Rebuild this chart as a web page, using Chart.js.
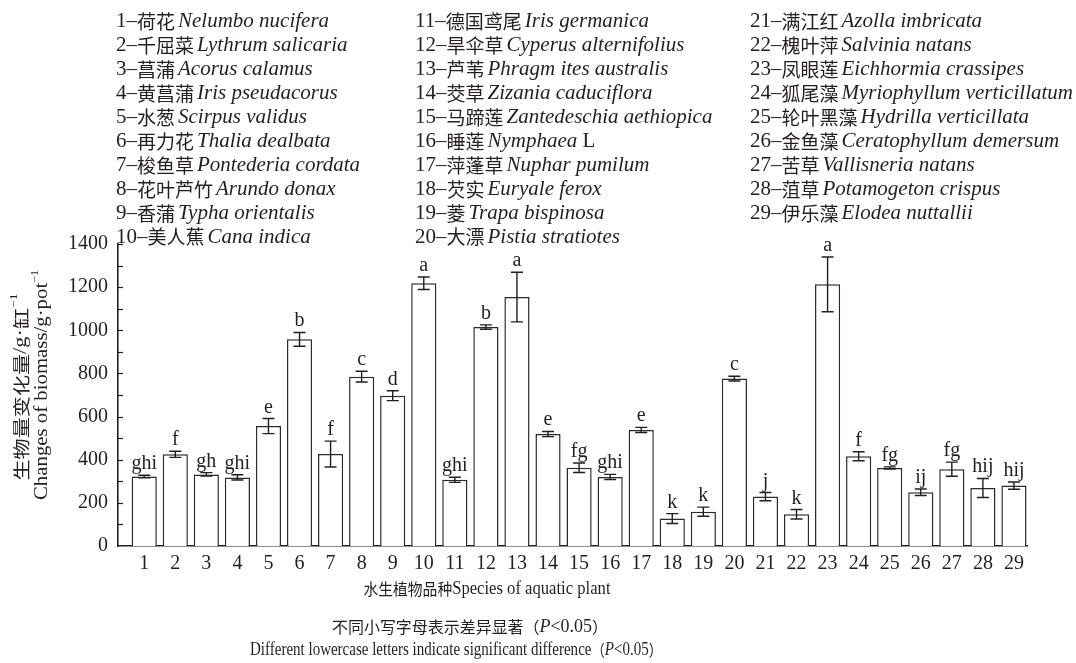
<!DOCTYPE html>
<html>
<head>
<meta charset="utf-8">
<script src="https://cdn.jsdelivr.net/npm/chart.js@4.4.0/dist/chart.umd.min.js"></script>
<style>
  html, body { margin: 0; padding: 0; background: #fff; }
</style>
</head>
<body>
<canvas id="myChart" width="1076" height="663"></canvas>
<script>
// species number on the x axis
const categories = [1, 2, 3, 4, 5, 6, 7, 8, 9, 10, 11, 12, 13, 14, 15, 16, 17, 18, 19, 20, 21, 22, 23, 24, 25, 26, 27, 28, 29];
// change of biomass, g per pot
const biomass = [322, 425, 332, 318, 556, 958, 426, 785, 697, 1218, 307, 1015, 1154, 519, 363, 320, 538, 127, 159, 776, 229, 147, 1213, 416, 362, 249, 356, 269, 280];
// error bar half length
const errors = [6, 14, 8, 12, 35, 32, 60, 25, 23, 29, 12, 10, 115, 12, 22, 12, 12, 23, 21, 11, 19, 22, 127, 21, 5, 15, 33, 44, 17];
// significance letters
const letters = ['ghi', 'f', 'gh', 'ghi', 'e', 'b', 'f', 'c', 'd', 'a', 'ghi', 'b', 'a', 'e', 'fg', 'ghi', 'e', 'k', 'k', 'c', 'j', 'k', 'a', 'f', 'fg', 'ij', 'fg', 'hij', 'hij'];
const yTickLabels = [0, 200, 400, 600, 800, 1000, 1200, 1400];

const speciesCn = ['荷花', '千屈菜', '菖蒲', '黄菖蒲', '水葱', '再力花', '梭鱼草', '花叶芦竹', '香蒲', '美人蕉',
  '德国鸢尾', '旱伞草', '芦苇', '茭草', '马蹄莲', '睡莲', '萍蓬草', '芡实', '菱', '大漂',
  '满江红', '槐叶萍', '凤眼莲', '狐尾藻', '轮叶黑藻', '金鱼藻', '苦草', '菹草', '伊乐藻'];
const speciesLatin = ['Nelumbo nucifera', 'Lythrum salicaria', 'Acorus calamus', 'Iris pseudacorus', 'Scirpus validus',
  'Thalia dealbata', 'Pontederia cordata', 'Arundo donax', 'Typha orientalis', 'Cana indica',
  'Iris germanica', 'Cyperus alternifolius', 'Phragm ites australis', 'Zizania caduciflora', 'Zantedeschia aethiopica',
  'Nymphaea L', 'Nuphar pumilum', 'Euryale ferox', 'Trapa bispinosa', 'Pistia stratiotes',
  'Azolla imbricata', 'Salvinia natans', 'Eichhormia crassipes', 'Myriophyllum verticillatum', 'Hydrilla verticillata',
  'Ceratophyllum demersum', 'Vallisneria natans', 'Potamogeton crispus', 'Elodea nuttallii'];

const SERIF = '"Liberation Serif", "Times New Roman", serif';
const CJK = '"Noto Sans CJK SC", sans-serif';
const INK = '#231f20';

// runs = [{t, font, sup}]
function runsWidth(ctx, runs) {
  let w = 0;
  runs.forEach(r => { ctx.font = r.font; w += ctx.measureText(r.t).width + (r.gap || 0); });
  return w;
}

function drawRuns(ctx, x, y, runs, align, target) {
  const w = runsWidth(ctx, runs);
  const sx = target ? target / w : 1;
  ctx.save();
  ctx.translate(x, y);
  ctx.scale(sx, 1);
  let cx = align === 'center' ? -w / 2 : 0;
  ctx.textBaseline = 'middle';
  ctx.textAlign = 'left';
  ctx.fillStyle = INK;
  runs.forEach(r => {
    ctx.font = r.font;
    ctx.fillText(r.t, cx, r.sup ? -7 : 0);
    cx += ctx.measureText(r.t).width + (r.gap || 0);
  });
  ctx.restore();
}

const extras = {
  id: 'extras',
  afterDatasetsDraw(chart) {
    const ctx = chart.ctx;
    const xs = chart.scales.x, ys = chart.scales.y;
    ctx.save();
    // inward ticks
    ctx.strokeStyle = INK;
    ctx.lineWidth = 1.2;
    for (let v = 100; v <= 1400; v += 100) {
      const py = Math.round(ys.getPixelForValue(v)) + 0.5;
      ctx.beginPath();
      ctx.moveTo(xs.left, py);
      ctx.lineTo(xs.left + 5, py);
      ctx.stroke();
    }
    // error bars + letters
    ctx.lineWidth = 1.4;
    ctx.font = '20px ' + SERIF;
    ctx.fillStyle = INK;
    ctx.textAlign = 'center';
    ctx.textBaseline = 'alphabetic';
    categories.forEach((c, i) => {
      const px = xs.getPixelForValue(c);
      const top = ys.getPixelForValue(biomass[i] + errors[i]);
      const bot = ys.getPixelForValue(biomass[i] - errors[i]);
      ctx.beginPath();
      ctx.moveTo(px, top); ctx.lineTo(px, bot);
      ctx.moveTo(px - 6, top); ctx.lineTo(px + 6, top);
      ctx.moveTo(px - 6, bot); ctx.lineTo(px + 6, bot);
      ctx.stroke();
      ctx.fillText(letters[i], px, top - 6);
    });
    ctx.restore();
  },
  afterDraw(chart) {
    const ctx = chart.ctx;
    // legend block
    const colX = [116, 415, 750];
    speciesCn.forEach((cn, i) => {
      const col = Math.floor(i / 10), row = i % 10;
      const y = 21.7 + row * 23.95;
      let latin = speciesLatin[i];
      const runs = [
        { t: (i + 1) + '–', font: '21px ' + SERIF },
        { t: cn, font: '19px ' + CJK, gap: 3 }
      ];
      if (latin.endsWith(' L')) {
        runs.push({ t: latin.slice(0, -2), font: 'italic 21px ' + SERIF });
        runs.push({ t: ' L', font: '21px ' + SERIF });
      } else {
        runs.push({ t: latin, font: 'italic 21px ' + SERIF });
      }
      drawRuns(ctx, colX[col], y, runs, 'left');
    });

    // y axis title (two rotated lines)
    ctx.save();
    ctx.translate(21.5, 387);
    ctx.rotate(-Math.PI / 2);
    drawRuns(ctx, 0, 0, [
      { t: '生物量变化量', font: '17px ' + CJK },
      { t: '/g·', font: '18px ' + SERIF },
      { t: '缸', font: '17px ' + CJK },
      { t: '−1', font: '11px ' + SERIF, sup: true }
    ], 'center', 187);
    ctx.restore();
    ctx.save();
    ctx.translate(42, 385);
    ctx.rotate(-Math.PI / 2);
    drawRuns(ctx, 0, 0, [
      { t: 'Changes of biomass/g·pot', font: '19px ' + SERIF },
      { t: '−1', font: '11px ' + SERIF, sup: true }
    ], 'center', 230);
    ctx.restore();

    // x axis title and note
    drawRuns(ctx, 487, 589, [
      { t: '水生植物品种', font: '16px ' + CJK },
      { t: 'Species of aquatic plant', font: '18px ' + SERIF }
    ], 'center', 247);
    drawRuns(ctx, 470, 627, [
      { t: '不同小写字母表示差异显著', font: '16px ' + CJK },
      { t: '（', font: '16px ' + CJK },
      { t: 'P', font: 'italic 18px ' + SERIF },
      { t: '<0.05', font: '18px ' + SERIF },
      { t: '）', font: '16px ' + CJK }
    ], 'center', 276);
    drawRuns(ctx, 456, 650, [
      { t: 'Different lowercase letters indicate significant difference', font: '18px ' + SERIF },
      { t: '（', font: '16px ' + CJK },
      { t: 'P', font: 'italic 18px ' + SERIF },
      { t: '<0.05', font: '18px ' + SERIF },
      { t: '）', font: '16px ' + CJK }
    ], 'center', 412);
  }
};

const ctx = document.getElementById('myChart').getContext('2d');
const myChart = new Chart(ctx, {
  type: 'bar',
  data: {
    labels: categories,
    datasets: [{
      label: 'Changes of biomass',
      data: categories.map((c, i) => ({ x: c, y: biomass[i] })),
      backgroundColor: '#ffffff',
      borderColor: '#2b2b2b',
      borderWidth: 1.5,
      categoryPercentage: 1,
      barPercentage: 0.81
    }]
  },
  options: {
    responsive: false,
    animation: false,
    devicePixelRatio: 1,
    layout: { padding: { left: 0, right: 49, top: 244, bottom: 77 } },
    plugins: { legend: { display: false }, tooltip: { enabled: false } },
    scales: {
      x: {
        type: 'linear',
        offset: false,
        min: 0.156,
        max: 29.42,
        grid: { display: false, drawTicks: false },
        border: { display: true, color: INK, width: 1.6 },
        ticks: {
          padding: 6,
          color: INK,
          autoSkip: false,
          maxRotation: 0,
          font: { family: SERIF, size: 20 },
          callback: v => String(v)
        },
        afterBuildTicks: scale => {
          scale.ticks = categories.map(v => ({ value: v }));
        },
        afterFit: scale => { scale.height = 40; }
      },
      y: {
        min: 0,
        max: 1400,
        grid: { display: false, drawTicks: false },
        border: { display: true, color: INK, width: 1.6 },
        ticks: {
          padding: 10,
          color: INK,
          font: { family: SERIF, size: 20 },
          callback: v => String(v)
        },
        afterBuildTicks: scale => {
          scale.ticks = yTickLabels.map(v => ({ value: v }));
        },
        afterFit: scale => { scale.width = 118; }
      }
    }
  },
  plugins: [extras]
});
</script>
</body>
</html>
